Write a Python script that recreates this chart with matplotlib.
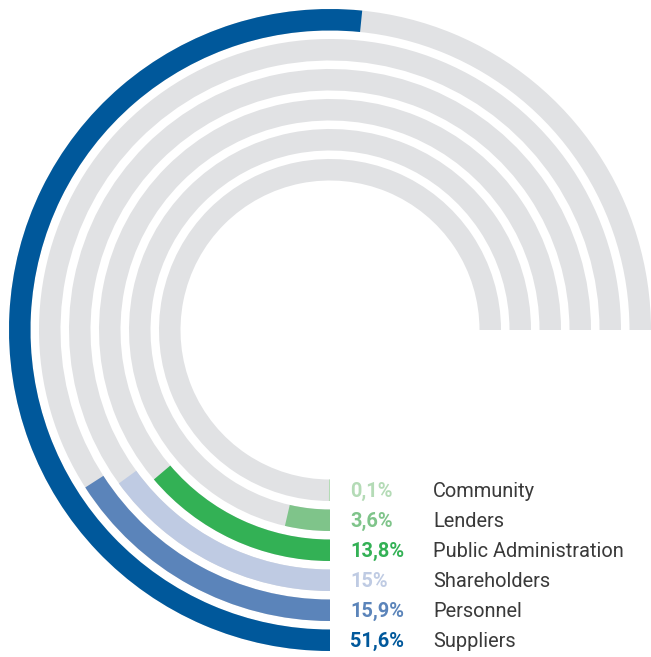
import matplotlib.pyplot as plt
from matplotlib.patches import Wedge

# rings listed outermost first
labels = ["Suppliers", "Personnel", "Shareholders", "Public Administration", "Lenders", "Community"]
values = [51.6, 15.9, 15.0, 13.8, 3.6, 0.1]
value_text = ["51,6%", "15,9%", "15%", "13,8%", "3,6%", "0,1%"]
colors = ["#00589b", "#5b84ba", "#bfcbe3", "#33b155", "#7fc48a", "#b4dbb6"]
track = "#e1e2e4"

W, H = 651, 657
fig = plt.figure(figsize=(W / 100, H / 100), dpi=100)
ax = fig.add_axes([0, 0, 1, 1])
ax.set_xlim(0, W)
ax.set_ylim(0, H)
ax.set_aspect("equal")
ax.axis("off")

cx, cy = 330, H - 330
r_out = 321
ring_w = 21.5
step = 30

for i, (lab, v, vt, c) in enumerate(zip(labels, values, value_text, colors)):
    r = r_out - i * step
    # grey track: 3/4 circle from 6 o'clock clockwise to 3 o'clock
    ax.add_patch(Wedge((cx, cy), r, 0, 270, width=ring_w, color=track, lw=0))
    # value bar, share of full circle, clockwise from 6 o'clock
    ax.add_patch(Wedge((cx, cy), r, 270 - v * 3.6, 270, width=ring_w, color=c, lw=0))
    y = cy - (r - ring_w / 2) - 1
    ax.text(350, y, vt, color=c, fontsize=14.4, fontweight="bold",
            family="Roboto", va="center", ha="left")
    ax.text(433, y, lab, color="#3a3a3a", fontsize=14.4,
            family="Roboto", va="center", ha="left")

fig.savefig("out.png", dpi=100)
